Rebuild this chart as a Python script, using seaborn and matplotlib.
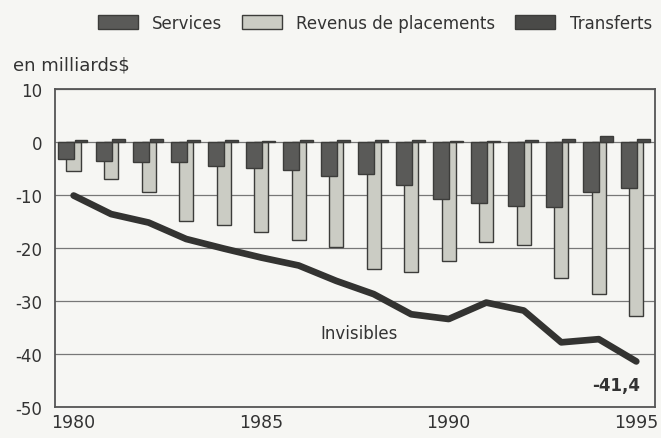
import pandas as pd
import matplotlib.pyplot as plt
import seaborn as sns
import numpy as np

# données (milliards $)
years = list(range(1980, 1996))
services = [-3.2, -3.5, -3.7, -3.8, -4.6, -5.0, -5.2, -6.4, -6.0, -8.1, -10.8, -11.5, -12.1, -12.3, -9.5, -8.7]
revenus = [-5.4, -7.0, -9.4, -15.0, -15.6, -17.0, -18.5, -19.9, -24.0, -24.6, -22.4, -18.9, -19.4, -25.7, -28.7, -32.8]
transferts = [0.4, 0.5, 0.6, 0.3, 0.3, 0.2, 0.3, 0.3, 0.4, 0.3, 0.2, 0.2, 0.3, 0.6, 1.2, 0.5]
invisibles = [-10.1, -13.6, -15.2, -18.3, -20.1, -21.8, -23.3, -26.2, -28.7, -32.5, -33.4, -30.3, -31.8, -37.8, -37.2, -41.4]

series = ["Services", "Revenus de placements", "Transferts"]
df = pd.DataFrame({
    "annee": years * 3,
    "serie": [s for s in series for _ in years],
    "valeur": services + revenus + transferts,
})

bg = "#f6f6f3"
txt = "#333333"
sns.set_style("white")
plt.rcParams["font.family"] = ["DejaVu Sans"]

fig = plt.figure(figsize=(6.61, 4.39), dpi=100, facecolor=bg)
ax = fig.add_axes([0.083, 0.0706, 0.908, 0.7244])
ax.set_facecolor(bg)

palette = {"Services": "#5a5a58", "Revenus de placements": "#cbccc4", "Transferts": "#4a4a48"}
sns.barplot(data=df, x="annee", y="valeur", hue="serie", hue_order=series,
            palette=palette, width=0.6, edgecolor="#3c3c3a", linewidth=1.0,
            saturation=1, ax=ax, zorder=3, legend=True)

# barres élargies et en chevauchement, services et transferts devant
widen = [0.42, 0.38, 0.34]
zord = [4, 3, 4]
for cont, w, z in zip(ax.containers, widen, zord):
    for p in cont.patches:
        c = p.get_x() + p.get_width() / 2
        p.set_x(c - w / 2)
        p.set_width(w)
        p.set_zorder(z)

sns.lineplot(x=np.arange(len(years)), y=invisibles, ax=ax, color="#333331",
             linewidth=4.8, zorder=5, solid_capstyle="round", solid_joinstyle="round")

ax.set_ylim(-50, 10)
ax.set_xlim(-0.5, len(years) - 0.5)
ax.set_yticks(range(-50, 11, 10))
ax.set_yticklabels([str(v) for v in range(-50, 11, 10)], fontsize=12, color=txt)
ax.set_xticks(np.arange(len(years)))
ax.set_xticklabels([str(y) if y % 5 == 0 else "" for y in years], fontsize=12.5, color=txt)
ax.tick_params(axis="x", direction="in", length=4, color="#555555", pad=4)
ax.tick_params(axis="y", length=0, pad=9)
ax.grid(axis="y", color="#777777", linewidth=0.9, zorder=1)
ax.set_axisbelow(True)
ax.set_xlabel("")
ax.set_ylabel("")
for s in ax.spines.values():
    s.set_color("#555555")
    s.set_linewidth(1.3)

ax.text(7.6, -36, "Invisibles", fontsize=12, color=txt, ha="center", va="center", zorder=6)
ax.text(14.45, -45.9, "-41,4", fontsize=12, fontweight="bold", color=txt, ha="center", va="center", zorder=6)

fig.text(0.02, 0.85, "en milliards$", fontsize=13, color=txt, ha="left", va="center")

handles, labels = ax.get_legend_handles_labels()
ax.get_legend().remove()
fig.legend(handles, labels, ncol=3, loc="center", bbox_to_anchor=(0.567, 0.946), frameon=False,
           fontsize=12, handlelength=2.4, handleheight=0.9, columnspacing=1.2, handletextpad=0.85,
           labelcolor=txt)

fig.savefig("out.png", dpi=100, facecolor=bg)
